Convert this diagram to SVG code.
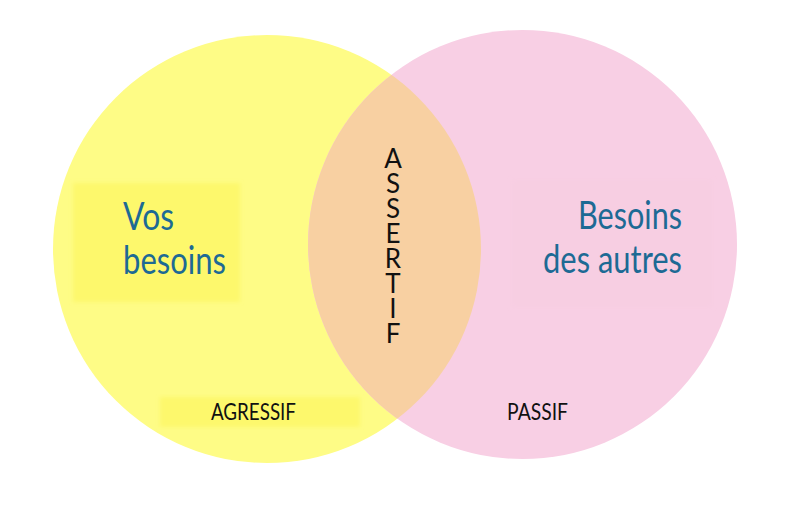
<svg xmlns="http://www.w3.org/2000/svg" width="800" height="506" viewBox="0 0 800 506">
<style>
.t{font-family:Lato,"Open Sans","Liberation Sans",sans-serif}
.big{font-size:38px;fill:#1d6a94}
.lab{font-size:24px;fill:#111}
.v{font-size:26px;fill:#111;writing-mode:vertical-rl;text-orientation:upright;letter-spacing:-7px}
</style>
<defs>
<clipPath id="cp"><circle cx="522.5" cy="244.5" r="214.5"/></clipPath>
<filter id="soft" x="-10%" y="-10%" width="120%" height="120%"><feGaussianBlur stdDeviation="2"/></filter>
</defs>
<rect width="800" height="506" fill="#fff"/>
<g id="left-circle">
<circle cx="267" cy="249" r="214" fill="#fefc86"/>
<rect x="73" y="183" width="167" height="119" fill="#fdf86c" filter="url(#soft)"/>
<rect x="160" y="397" width="200" height="30" fill="#fdf86c" filter="url(#soft)"/>
</g>
<g id="right-circle">
<circle cx="522.5" cy="244.5" r="214.5" fill="#f8cfe4"/>
<rect x="512" y="180" width="200" height="127" fill="#f7cee2" filter="url(#soft)"/>
</g>
<g id="overlap">
<circle cx="267" cy="249" r="214" fill="#f8d0a2" clip-path="url(#cp)"/>
</g>
<g id="connectors"></g>
<g id="label-vos">
<text class="t big" x="123" y="230" textLength="51" lengthAdjust="spacingAndGlyphs">Vos</text>
<text class="t big" x="123" y="274" textLength="103" lengthAdjust="spacingAndGlyphs">besoins</text>
</g>
<g id="label-autres">
<text class="t big" x="578" y="229" textLength="104" lengthAdjust="spacingAndGlyphs">Besoins</text>
<text class="t big" x="543" y="273" textLength="139" lengthAdjust="spacingAndGlyphs">des autres</text>
</g>
<g id="label-assertif">
<text class="t v" x="393" y="142">ASSERTIF</text>
</g>
<g id="label-agressif">
<text class="t lab" x="211" y="420" textLength="85" lengthAdjust="spacingAndGlyphs">AGRESSIF</text>
</g>
<g id="label-passif">
<text class="t lab" x="507" y="420" textLength="61" lengthAdjust="spacingAndGlyphs">PASSIF</text>
</g>
</svg>
